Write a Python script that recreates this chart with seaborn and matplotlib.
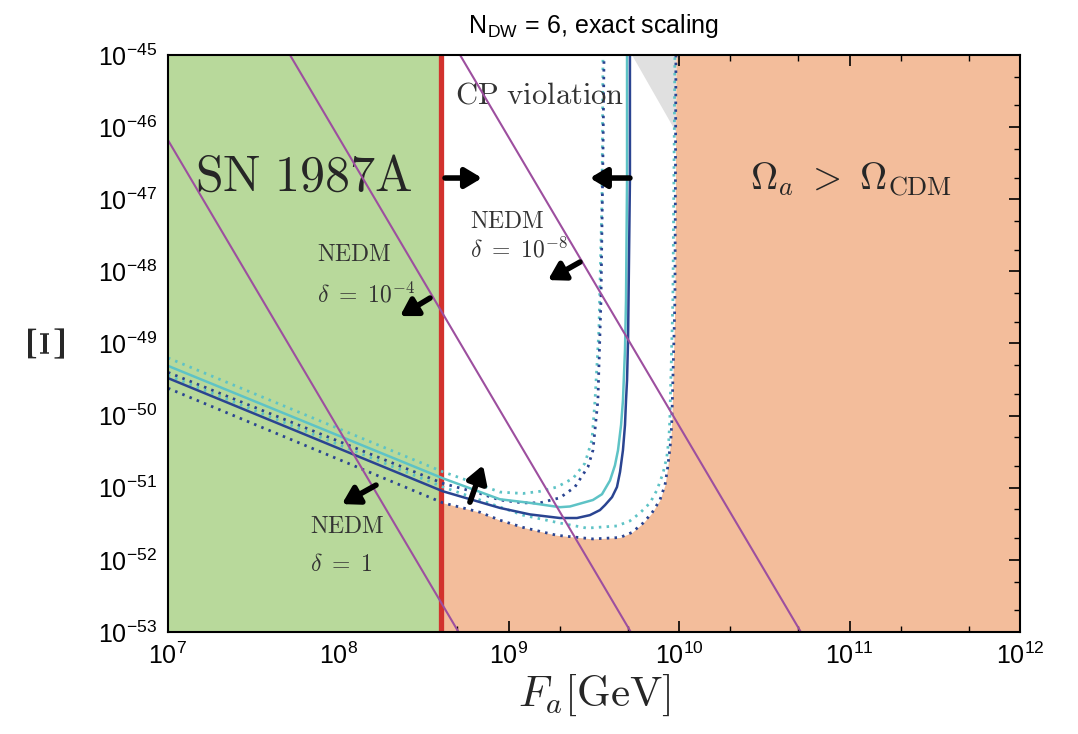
import numpy as np
import matplotlib
matplotlib.use("Agg")
import matplotlib.pyplot as plt
from matplotlib.ticker import LogLocator, NullFormatter
import seaborn as sns

# log10 values (Fa in GeV, Xi dimensionless)
sn_bound = 4e8

navy_solid_lfa = [7.000, 8.614, 8.948, 9.124, 9.300, 9.400, 9.476, 9.535, 9.565, 9.606, 9.635,
                  9.653, 9.670, 9.682, 9.688, 9.694, 9.700, 9.711, 9.711]
navy_solid_lxi = [-49.48, -51.05, -51.28, -51.37, -51.42, -51.42, -51.38, -51.31, -51.24, -51.13, -50.99,
                  -50.78, -50.48, -50.13, -49.79, -49.51, -48.95, -46.73, -45.0]

teal_solid_lfa = [7.000, 8.614, 8.948, 9.124, 9.300, 9.359, 9.494, 9.547, 9.594, 9.623, 9.641,
                  9.659, 9.670, 9.682, 9.688, 9.694, 9.694]
teal_solid_lxi = [-49.31, -50.87, -51.16, -51.21, -51.27, -51.26, -51.17, -51.09, -50.90, -50.69, -50.48,
                  -50.13, -49.79, -49.09, -48.40, -46.73, -45.0]

teal_dot_up_lfa = [7.000, 8.614, 8.831, 8.948, 9.083, 9.183, 9.283, 9.377, 9.447, 9.488, 9.506, 9.529, 9.547, 9.553]
teal_dot_up_lxi = [-49.20, -50.78, -50.96, -51.06, -51.08, -51.05, -50.99, -50.87, -50.66, -50.34, -49.79, -48.81, -47.01, -45.0]

navy_dot_up_lfa = [7.000, 8.614, 8.831, 8.948, 9.083, 9.183, 9.300, 9.388, 9.465, 9.494, 9.523, 9.541, 9.553, 9.559]
navy_dot_up_lxi = [-49.40, -50.94, -51.08, -51.17, -51.21, -51.21, -51.14, -50.99, -50.71, -50.48, -49.79, -48.40, -46.32, -45.0]

teal_dot_lo_lfa = [7.000, 8.614, 8.831, 9.083, 9.300, 9.459, 9.635, 9.711, 9.770, 9.829, 9.870,
                   9.905, 9.927, 9.939, 9.945, 9.963, 9.975]
teal_dot_lo_lxi = [-49.44, -50.99, -51.17, -51.38, -51.49, -51.56, -51.53, -51.46, -51.35, -51.21, -51.03,
                   -50.80, -50.58, -50.34, -50.06, -48.40, -45.0]

navy_dot_lo_lfa = [7.000, 8.614, 8.831, 8.948, 9.083, 9.283, 9.494, 9.653, 9.723, 9.788, 9.840, 9.887,
                   9.917, 9.933, 9.951, 9.957, 9.975, 9.981]
navy_dot_lo_lxi = [-49.62, -51.21, -51.34, -51.45, -51.55, -51.66, -51.71, -51.69, -51.62, -51.49, -51.35, -51.17,
                   -50.96, -50.71, -50.34, -50.06, -48.40, -45.0]

# NEDM bound lines (end points), delta = 1, 1e-4, 1e-8
nedm_lfa = [[7.000, 8.705], [7.716, 9.716], [8.714, 10.714]]
nedm_lxi = [[-46.18, -53.0], [-45.0, -53.0], [-45.0, -53.0]]

grey_lfa = [9.723, 9.981, 9.981]
grey_lxi = [-45.0, -45.0, -46.07]

GREEN = "#b8d99b"
ORANGE = "#f3bd9b"
NAVY = "#2a4491"
TEAL = "#5ec3c6"
PURPLE = "#9d4f9f"
RED = "#d2322d"
INK = "#262626"

sns.set_theme(style="ticks")
plt.rcParams["font.family"] = ["Liberation Sans", "DejaVu Sans"]
plt.rcParams["mathtext.fontset"] = "cm"
plt.rcParams["axes.unicode_minus"] = False

fig = plt.figure(figsize=(10.78, 7.34), dpi=100)
ax = fig.add_axes([0.1558, 0.139, 0.7904, 0.7861])
ax.set_xscale("log")
ax.set_yscale("log")
ax.set_xlim(1e7, 1e12)
ax.set_ylim(1e-53, 1e-45)


def tp(v):
    return 10 ** np.asarray(v, dtype=float)


# background regions
ax.axvspan(sn_bound, 1e12, color=ORANGE, lw=0, zorder=0.5)
ax.fill_between(tp(navy_dot_lo_lfa), tp(navy_dot_lo_lxi), 1e-45, color="white", lw=0, zorder=0.6)
ax.fill(tp(grey_lfa), tp(grey_lxi), color="#e0e0e0", lw=0, zorder=0.7)
ax.axvspan(1e7, sn_bound, color=GREEN, lw=0, zorder=0.8)
ax.axvline(sn_bound, color=RED, lw=3.8, zorder=2)

dot = (0, (0.9, 1.9))
curves = [
    (teal_dot_up_lfa, teal_dot_up_lxi, TEAL, dot, 2.0),
    (navy_dot_up_lfa, navy_dot_up_lxi, NAVY, dot, 2.0),
    (teal_dot_lo_lfa, teal_dot_lo_lxi, TEAL, dot, 2.0),
    (navy_dot_lo_lfa, navy_dot_lo_lxi, NAVY, dot, 2.0),
    (teal_solid_lfa, teal_solid_lxi, TEAL, "-", 1.8),
    (navy_solid_lfa, navy_solid_lxi, NAVY, "-", 1.8),
]
for lfa, lxi, c, ls, w in curves:
    sns.lineplot(x=tp(lfa), y=tp(lxi), ax=ax, color=c, linestyle=ls, lw=w,
                 sort=False, estimator=None, zorder=3)

for lfa, lxi in zip(nedm_lfa, nedm_lxi):
    sns.lineplot(x=tp(lfa), y=tp(lxi), ax=ax, color=PURPLE, lw=1.5,
                 sort=False, estimator=None, zorder=3.5)

# arrows
arrows = [
    ((8.626, -46.706), (8.843, -46.706)),
    ((9.711, -46.706), (9.476, -46.706)),
    ((9.418, -47.871), (9.230, -48.121)),
    ((8.538, -48.370), (8.362, -48.620)),
    ((8.221, -50.964), (8.021, -51.227)),
    ((8.772, -51.200), (8.849, -50.687)),
]
for tail, head in arrows:
    ax.annotate("", xy=tp(head), xytext=tp(tail),
                arrowprops=dict(arrowstyle="-|>,head_length=0.5,head_width=0.3",
                                color="black", lw=4, mutation_scale=20,
                                shrinkA=0, shrinkB=0), zorder=5)

# labels
ax.text(10 ** 7.158, 10 ** -46.706, r"$\mathrm{SN\ 1987A}$", fontsize=36, va="center", ha="left", color=INK)
ax.text(10 ** 10.415, 10 ** -46.73, r"$\Omega_a\ >\ \Omega_{\rm CDM}$", fontsize=27, va="center", ha="left", color=INK)
ax.text(10 ** 8.684, 10 ** -45.555, r"$\mathrm{CP\ violation}$", fontsize=22, va="center", ha="left", color="#333333")
ax.text(10 ** 8.772, 10 ** -47.316, r"$\mathrm{NEDM}$", fontsize=17, va="center", ha="left", color="#333333")
ax.text(10 ** 8.772, 10 ** -47.705, r"$\delta\ =\ 10^{-8}$", fontsize=17, va="center", ha="left", color="#333333")
ax.text(10 ** 7.874, 10 ** -47.774, r"$\mathrm{NEDM}$", fontsize=17, va="center", ha="left", color="#333333")
ax.text(10 ** 7.874, 10 ** -48.33, r"$\delta\ =\ 10^{-4}$", fontsize=17, va="center", ha="left", color="#333333")
ax.text(10 ** 7.833, 10 ** -51.546, r"$\mathrm{NEDM}$", fontsize=17, va="center", ha="left", color="#333333")
ax.text(10 ** 7.833, 10 ** -52.07, r"$\delta\ =\ 1$", fontsize=17, va="center", ha="left", color="#333333")

ax.set_title(r"N$_{\mathregular{DW}}$ = 6, exact scaling", fontsize=18, pad=16, color="black")
ax.set_xlabel(r"$F_a[\mathrm{GeV}]$", fontsize=31, labelpad=2)
ax.set_ylabel(r"$\Xi$", fontsize=38, labelpad=16, color=INK)

ax.xaxis.set_minor_locator(LogLocator(base=10, subs=[2, 5]))
ax.yaxis.set_minor_locator(LogLocator(base=10, subs=[2, 5]))
ax.xaxis.set_minor_formatter(NullFormatter())
ax.yaxis.set_minor_formatter(NullFormatter())
ax.tick_params(which="both", direction="in", top=True, right=True, color="black")
ax.tick_params(which="major", length=8, width=1.2, labelsize=18, pad=8, labelcolor="black")
ax.tick_params(which="minor", length=4, width=1.0)
for s in ax.spines.values():
    s.set_color("black")
    s.set_linewidth(1.5)
    s.set_zorder(6)

fig.savefig("out.png", dpi=100)
